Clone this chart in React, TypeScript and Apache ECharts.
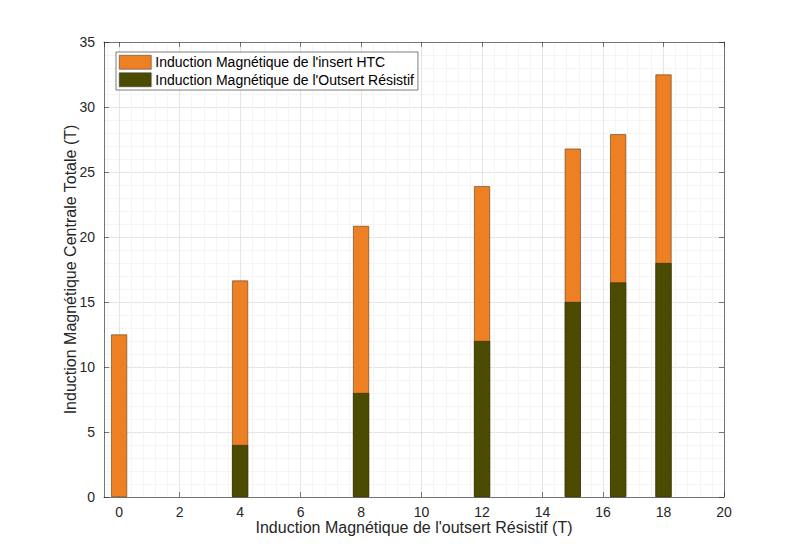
import React, { useEffect, useRef } from "react";
import * as echarts from "echarts";

const outsertField: number[] = [0, 4, 8, 12, 15, 16.5, 18];
const htcField: number[] = [12.5, 12.65, 12.85, 11.9, 11.8, 11.4, 14.5];
const seriesNames: string[] = [
  "Induction Magnétique de l'insert HTC",
  "Induction Magnétique de l'Outsert Résistif",
];
const xTitle = "Induction Magnétique de l'outsert Résistif (T)";
const yTitle = "Induction Magnétique Centrale Totale (T)";

const FONT = "'Liberation Sans', Arial, Helvetica, sans-serif";
const AX = "#262626";

export default function App() {
  const ref = useRef<HTMLDivElement>(null);
  useEffect(() => {
    if (!ref.current) return;
    const chart = echarts.init(ref.current, null, { renderer: "svg" });
    const totalData = outsertField.map((x, i) => [x, x + htcField[i]]);
    const outData = outsertField.filter((x) => x > 0).map((x) => [x, x]);
    const grid = { left: 104, right: 76, top: 42, bottom: 62 };
    chart.setOption({
      animation: false,
      backgroundColor: "#ffffff",
      textStyle: { fontFamily: FONT },
      grid,
      legend: {
        data: seriesNames.map((n) => ({ name: n, icon: "rect" })),
        orient: "vertical",
        left: 116,
        top: 52,
        itemWidth: 32,
        itemHeight: 14,
        itemGap: 3,
        padding: [3, 4, 3, 3],
        backgroundColor: "#ffffff",
        borderColor: "#262626",
        borderWidth: 0.6,
        borderRadius: 0,
        selectedMode: false,
        itemStyle: { borderWidth: 0.5, borderColor: "#333" },
        textStyle: { fontFamily: FONT, fontSize: 14, color: "#000", padding: [0, 0, 0, -1] },
      },
      xAxis: [
        {
          type: "value",
          min: -0.5,
          max: 20,
          splitNumber: 10,
          name: xTitle,
          nameLocation: "middle",
          nameGap: 22,
          nameMoveOverlap: false,
          nameTextStyle: { fontFamily: FONT, fontSize: 16, color: AX },
          axisLine: { show: true, onZero: false, lineStyle: { color: AX, width: 0.6 } },
          axisTick: { show: true, inside: true, length: 5, lineStyle: { color: AX, width: 0.6 } },
          axisLabel: { showMinLabel: false, fontFamily: FONT, fontSize: 14, color: AX, margin: 8 },
          splitLine: { show: true, lineStyle: { color: "#dedede", width: 0.8 } },
          minorTick: { show: false, splitNumber: 5 },
          minorSplitLine: { show: true, lineStyle: { color: "#f3f3f3", width: 0.8 } },
        },
        {
          type: "value",
          position: "top",
          min: -0.5,
          max: 20,
          splitNumber: 10,
          axisLine: { show: true, onZero: false, lineStyle: { color: AX, width: 0.6 } },
          axisTick: { show: true, inside: true, length: 5, lineStyle: { color: AX, width: 0.6 } },
          axisLabel: { show: false },
          splitLine: { show: false },
        },
      ],
      yAxis: [
        {
          type: "value",
          min: 0,
          max: 35,
          interval: 5,
          name: yTitle,
          nameLocation: "middle",
          nameGap: 26,
          nameMoveOverlap: false,
          nameTextStyle: { fontFamily: FONT, fontSize: 16, color: AX },
          axisLine: { show: true, onZero: false, lineStyle: { color: AX, width: 0.6 } },
          axisTick: { show: true, inside: true, length: 5, lineStyle: { color: AX, width: 0.6 } },
          axisLabel: { fontFamily: FONT, fontSize: 14, color: AX, margin: 9 },
          splitLine: { show: true, lineStyle: { color: "#dedede", width: 0.8 } },
          minorTick: { show: false, splitNumber: 5 },
          minorSplitLine: { show: true, lineStyle: { color: "#f3f3f3", width: 0.8 } },
        },
        {
          type: "value",
          position: "right",
          min: 0,
          max: 35,
          interval: 5,
          axisLine: { show: true, onZero: false, lineStyle: { color: AX, width: 0.6 } },
          axisTick: { show: true, inside: true, length: 5, lineStyle: { color: AX, width: 0.6 } },
          axisLabel: { show: false },
          splitLine: { show: false },
        },
      ],
      series: [
        {
          name: seriesNames[0],
          type: "bar",
          xAxisIndex: 0,
          yAxisIndex: 0,
          data: totalData,
          barWidth: 16,
          barGap: "-100%",
          itemStyle: { color: "#ED8022", borderColor: "#5a3a14", borderWidth: 0.6 },
        },
        {
          name: seriesNames[1],
          type: "bar",
          xAxisIndex: 0,
          yAxisIndex: 0,
          data: outData,
          barWidth: 16,
          barGap: "-100%",
          itemStyle: { color: "#4C4B02", borderColor: "#2a2a00", borderWidth: 0.6 },
        },
      ],
    });
    return () => chart.dispose();
  }, []);
  return <div ref={ref} style={{ width: 800, height: 559, position: "absolute", left: 0, top: 0 }} />;
}
